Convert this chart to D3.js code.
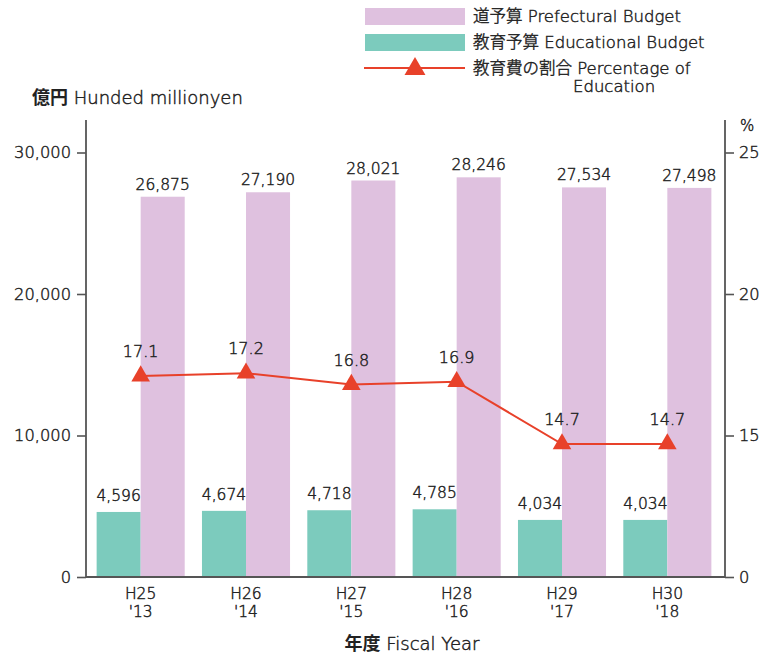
<!DOCTYPE html>
<html>
<head>
<meta charset="utf-8">
<script src="https://cdn.jsdelivr.net/npm/d3@7"></script>
<style>
  body { margin: 0; background: #fff; }
  svg text { font-family: "DejaVu Sans", "Noto Sans CJK JP", sans-serif; font-weight: 300;
             fill: #222; stroke: #222; stroke-width: 0.45; }
  .axis path, .axis line { stroke: #555; stroke-width: 1.6; }
</style>
</head>
<body>
<script>
// data
const years = ['H25', 'H26', 'H27', 'H28', 'H29', 'H30']
const yearsWestern = ["'13", "'14", "'15", "'16", "'17", "'18"]
const prefecturalBudget = [26875, 27190, 28021, 28246, 27534, 27498]
const educationalBudget = [4596, 4674, 4718, 4785, 4034, 4034]
const educationShare = [17.1, 17.2, 16.8, 16.9, 14.7, 14.7]
const leftTicks = [0, 10000, 20000, 30000]
const rightTicks = [10, 15, 20, 25]

const colors = { pref: '#dfc1df', edu: '#7ccbbd', line: '#e8412a' }
const width = 777
const height = 655
const fmt = d3.format(',')

const svg = d3.select('body').append('svg')
    .attr('width', width).attr('height', height)
    .attr('xmlns', 'http://www.w3.org/2000/svg')

const x = d3.scaleBand().domain(years).range([88, 720])
const barWidth = x.step() * 0.418
const yLeft = d3.scaleLinear().domain([0, 30000]).range([577, 152.5])
// right axis is cut: its bottom tick reads 0 but sits where 10 would be
const yRight = d3.scaleLinear().domain([10, 25]).range([577, 152.5])
const cx = d => x(d) + x.bandwidth() / 2

// axes
svg.append('g').attr('class', 'axis').attr('transform', 'translate(86,0)')
    .call(d3.axisLeft(yLeft).tickValues(leftTicks).tickSize(9).tickPadding(6).tickFormat(fmt))
svg.append('g').attr('class', 'axis').attr('transform', 'translate(725,0)')
    .call(d3.axisRight(yRight).tickValues(rightTicks).tickSize(9).tickPadding(5)
        .tickFormat(d => d === 10 ? '0' : d))
svg.selectAll('.axis path').remove()
svg.selectAll('.axis text').attr('font-size', 16.3).style('fill', '#222')

svg.append('line').attr('x1', 86).attr('x2', 86).attr('y1', 120).attr('y2', 577)
    .attr('stroke', '#555').attr('stroke-width', 1.8)
svg.append('line').attr('x1', 725).attr('x2', 725).attr('y1', 120).attr('y2', 577)
    .attr('stroke', '#555').attr('stroke-width', 1.8)

// bars
svg.selectAll('.edu').data(years).enter().append('rect')
    .attr('x', d => cx(d) - barWidth)
    .attr('width', barWidth)
    .attr('y', (d, i) => yLeft(educationalBudget[i]))
    .attr('height', (d, i) => yLeft(0) - yLeft(educationalBudget[i]))
    .attr('fill', colors.edu)
svg.selectAll('.pref').data(years).enter().append('rect')
    .attr('x', d => cx(d))
    .attr('width', barWidth)
    .attr('y', (d, i) => yLeft(prefecturalBudget[i]))
    .attr('height', (d, i) => yLeft(0) - yLeft(prefecturalBudget[i]))
    .attr('fill', colors.pref)

svg.append('line').attr('x1', 86).attr('x2', 725).attr('y1', 577).attr('y2', 577)
    .attr('stroke', '#555').attr('stroke-width', 1.8)

// bar labels
svg.selectAll('.eduLabel').data(years).enter().append('text')
    .attr('x', d => cx(d) - barWidth / 2)
    .attr('y', (d, i) => yLeft(educationalBudget[i]) - 11)
    .attr('text-anchor', 'middle').attr('font-size', 15.5)
    .text((d, i) => fmt(educationalBudget[i]))
svg.selectAll('.prefLabel').data(years).enter().append('text')
    .attr('x', d => cx(d) + barWidth / 2)
    .attr('y', (d, i) => yLeft(prefecturalBudget[i]) - 7)
    .attr('text-anchor', 'middle').attr('font-size', 15.5)
    .text((d, i) => fmt(prefecturalBudget[i]))

// percentage line
const line = d3.line().x((d, i) => cx(years[i])).y(d => yRight(d))
svg.append('path').datum(educationShare)
    .attr('d', line).attr('fill', 'none')
    .attr('stroke', colors.line).attr('stroke-width', 2)
const tri = d3.symbol().type(d3.symbolTriangle).size(150)
svg.selectAll('.pt').data(educationShare).enter().append('path')
    .attr('d', tri)
    .attr('transform', (d, i) => `translate(${cx(years[i])},${yRight(d)})`)
    .attr('fill', colors.line)
svg.selectAll('.ptLabel').data(educationShare).enter().append('text')
    .attr('x', (d, i) => cx(years[i]))
    .attr('y', d => yRight(d) - 19)
    .attr('text-anchor', 'middle').attr('font-size', 16)
    .text(d => d.toFixed(1))

// x labels
svg.selectAll('.xl').data(years).enter().append('text')
    .attr('x', d => cx(d)).attr('y', 599)
    .attr('text-anchor', 'middle').attr('font-size', 15.5).text(d => d)
svg.selectAll('.xl2').data(yearsWestern).enter().append('text')
    .attr('x', (d, i) => cx(years[i])).attr('y', 617)
    .attr('text-anchor', 'middle').attr('font-size', 15.5).text(d => d)

// titles
const unit = svg.append('text').attr('x', 32).attr('y', 104).attr('font-size', 18)
unit.append('tspan').attr('font-weight', 700).attr('stroke-width', 0).text('億円')
unit.append('tspan').text(' Hunded millionyen')
svg.append('text').attr('x', 740).attr('y', 131).attr('font-size', 15).text('%')
const xTitle = svg.append('text').attr('x', 412).attr('y', 650).attr('text-anchor', 'middle').attr('font-size', 18)
xTitle.append('tspan').attr('font-weight', 700).attr('stroke-width', 0).text('年度')
xTitle.append('tspan').text(' Fiscal Year')

// legend
const legend = svg.append('g')
legend.append('rect').attr('x', 365).attr('y', 8).attr('width', 100).attr('height', 17).attr('fill', colors.pref)
legend.append('rect').attr('x', 365).attr('y', 34).attr('width', 100).attr('height', 17).attr('fill', colors.edu)
legend.append('line').attr('x1', 364).attr('x2', 465).attr('y1', 68).attr('y2', 68)
    .attr('stroke', colors.line).attr('stroke-width', 2)
legend.append('path').attr('d', d3.symbol().type(d3.symbolTriangle).size(190))
    .attr('transform', 'translate(415,69)').attr('fill', colors.line)
const legendText = [['道予算 Prefectural Budget', 22], ['教育予算 Educational Budget', 48], ['教育費の割合 Percentage of', 74]]
legend.selectAll('.lt').data(legendText).enter().append('text')
    .attr('x', 473).attr('y', d => d[1]).attr('font-size', 16.5).text(d => d[0])
legend.append('text').attr('x', 573).attr('y', 92).attr('font-size', 16.5).text('Education')
</script>
</body>
</html>
